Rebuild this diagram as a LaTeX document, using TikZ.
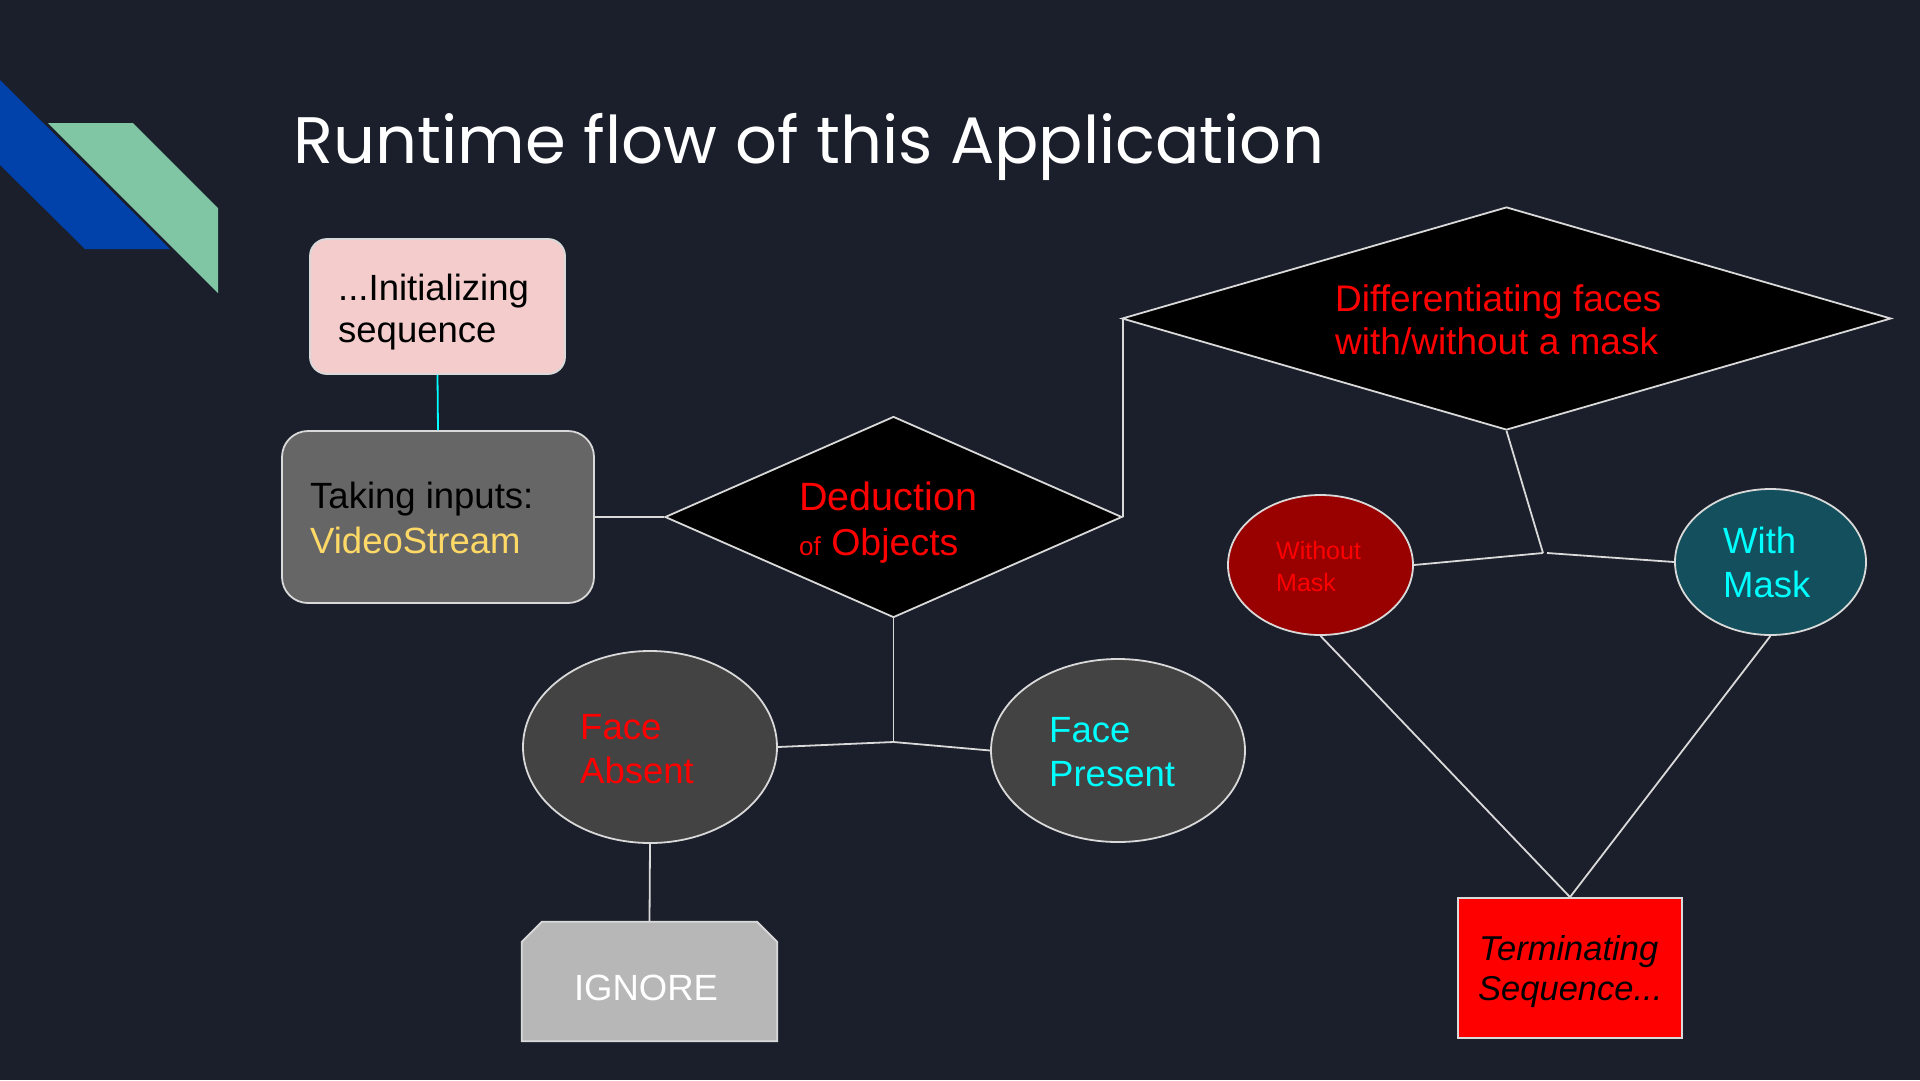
\documentclass[tikz,border=0pt]{standalone}
\usepackage{fontspec}
\setmainfont{Liberation Sans}
\newfontfamily\titlefont{Poppins}
\usetikzlibrary{shapes.geometric}

\definecolor{bg}{HTML}{1B1F2B}
\definecolor{accentblue}{HTML}{0041AA}
\definecolor{accentgreen}{HTML}{80C6A4}
\definecolor{linegray}{HTML}{D9D9D9}
\definecolor{initpink}{HTML}{F4CCCC}
\definecolor{inputgray}{HTML}{666666}
\definecolor{facegray}{HTML}{434343}
\definecolor{ignoregray}{HTML}{B7B7B7}
\definecolor{maskred}{HTML}{990000}
\definecolor{maskteal}{HTML}{134F5C}
\definecolor{txtred}{HTML}{FF0000}
\definecolor{txtcyan}{HTML}{00FFFF}
\definecolor{txtyellow}{HTML}{FFD966}

\begin{document}
\begin{tikzpicture}[x=1pt,y=-1pt,
  outline/.style={draw=linegray, line width=1.8pt, inner sep=0pt},
  edge/.style={draw=linegray, line width=1.8pt},
  roundbox/.style={outline, rectangle},
  decision/.style={outline, diamond, fill=black},
  bubble/.style={outline, ellipse},
  lbl/.style={anchor=base west, inner sep=0pt, font=\fontsize{36.5}{43}\selectfont},
]
% page background
\fill[bg] (0,0) rectangle (1920,1080);
\useasboundingbox (0,0) rectangle (1920,1080);

% corner ribbons
\fill[accentblue] (0,80) -- (170,249) -- (85,249) -- (0,165) -- cycle;
\fill[accentgreen] (48,123) -- (133,123) -- (218,208) -- (218,293) -- cycle;

% heading
\node[anchor=base west, inner sep=0pt, text=white,
      font=\titlefont\fontsize{65.7}{70}\selectfont] (title) at (293.5,163)
      {Runtime flow of this Application};

% shapes
\node[roundbox, fill=initpink, rounded corners=17pt,
      minimum width=255pt, minimum height=135pt] (init) at (437.5,306.5) {};
\node[roundbox, fill=inputgray, rounded corners=26pt,
      minimum width=312pt, minimum height=172pt] (inputs) at (438,517) {};
\node[decision, minimum width=457pt, minimum height=201pt] (deduce) at (893.5,517) {};
\node[decision, minimum width=769pt, minimum height=223pt] (differ) at (1506.5,318.5) {};
\node[bubble, fill=facegray, minimum width=254pt, minimum height=192pt] (absent) at (650,747) {};
\node[bubble, fill=facegray, minimum width=254pt, minimum height=183pt] (present) at (1118,750.5) {};
\node[bubble, fill=maskred, minimum width=185pt, minimum height=140pt] (nomask) at (1320.5,565) {};
\node[bubble, fill=maskteal, minimum width=191pt, minimum height=146pt] (mask) at (1770.5,562) {};
\node[rectangle, inner sep=0pt, minimum width=255pt, minimum height=119pt] (ignore) at (649.5,981.5) {};
\node[outline, rectangle, fill=txtred, minimum width=224pt, minimum height=140pt] (term) at (1570,968) {};

% box with both top corners cut off
\path[outline, fill=ignoregray]
  (ignore.south west) -- ([yshift=-20pt]ignore.north west)
  -- ([xshift=20pt]ignore.north west) -- ([xshift=-20pt]ignore.north east)
  -- ([yshift=-20pt]ignore.north east) -- (ignore.south east) -- cycle;

% junction points
\coordinate (jface) at (893.5,742);
\coordinate (jmaskL) at (1543,553);
\coordinate (jmaskR) at (1547,553);

% connectors
\draw[draw=txtcyan, line width=1.8pt] (init.south) -- (inputs.north);
\draw[edge] (inputs.east) -- (deduce.west);
\draw[edge] (deduce.south) -- (jface);
\draw[edge] (jface) -- (absent.east);
\draw[edge] (jface) -- (present.west);
\draw[edge] (absent.south) -- (ignore.north);
\draw[edge] (deduce.east) |- (differ.west);
\draw[edge] (differ.south) -- (jmaskL);
\draw[edge] (jmaskL) -- (nomask.east);
\draw[edge] (jmaskR) -- (mask.west);
\draw[edge] (nomask.south) -- (term.north);
\draw[edge] (mask.south) -- (term.north);

% labels
\node[lbl] (initA) at (338,300) {...Initializing};
\node[lbl] (initB) at (338,342) {sequence};
\node[lbl] (inA) at (310,508) {Taking inputs:};
\node[lbl, text=txtyellow] (inB) at (310,553) {VideoStream};
\node[lbl, text=txtred, font=\fontsize{39.5}{45}\selectfont] (dedA) at (799,510) {Deduction};
\node[lbl, text=txtred, font=\fontsize{37.5}{45}\selectfont] (dedB) at (799,555)
      {{\fontsize{26}{30}\selectfont of} Objects};
\node[lbl, text=txtred, font=\fontsize{37}{43}\selectfont] (difA) at (1335,311) {Differentiating faces};
\node[lbl, text=txtred, font=\fontsize{37}{43}\selectfont] (difB) at (1335,354) {with/without a mask};
\node[lbl, text=txtred] (absA) at (580,739) {Face};
\node[lbl, text=txtred] (absB) at (580,783) {Absent};
\node[lbl, text=txtcyan] (preA) at (1049,742) {Face};
\node[lbl, text=txtcyan] (preB) at (1049,786) {Present};
\node[lbl, text=txtred, font=\fontsize{25}{30}\selectfont] (nmA) at (1276,559) {Without};
\node[lbl, text=txtred, font=\fontsize{25}{30}\selectfont] (nmB) at (1276,591) {Mask};
\node[lbl, text=txtcyan] (mA) at (1723,553) {With};
\node[lbl, text=txtcyan] (mB) at (1723,597) {Mask};
\node[anchor=base, inner sep=0pt, text=white, font=\fontsize{36.5}{43}\selectfont] (ign) at (646,1000) {IGNORE};
\node[lbl, font=\fontsize{34.5}{40}\selectfont\itshape] (tmA) at (1479,960) {Terminating};
\node[lbl, font=\fontsize{34.5}{40}\selectfont\itshape] (tmB) at (1478,1000) {Sequence...};
\end{tikzpicture}
\end{document}
